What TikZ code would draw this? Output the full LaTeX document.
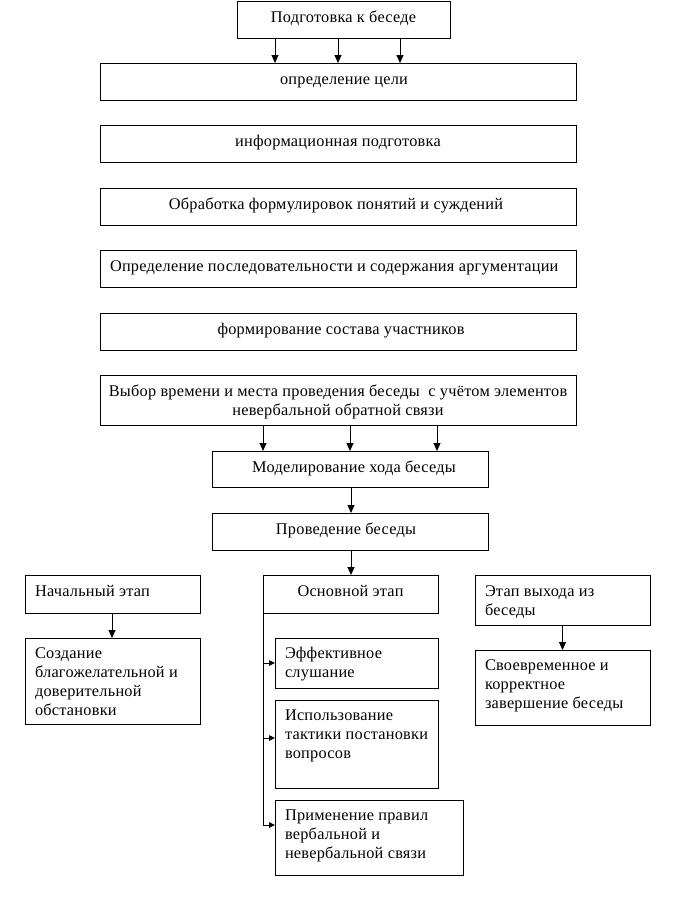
\documentclass[tikz,border=0pt]{standalone}
\usepackage{fontspec}
\setmainfont{Liberation Serif}[LetterSpace=1.5]
\usetikzlibrary{arrows.meta}
\tikzset{
  box/.style={draw, line width=0.9pt, inner sep=0pt, outer sep=0pt, anchor=north west},
  txt/.style={inner sep=0pt, outer sep=0pt, font=\fontsize{16.3}{19}\selectfont},
  arr/.style={line width=0.9pt, -{Triangle[length=8pt,width=7pt]}},
  sarr/.style={line width=0.9pt, -{Triangle[length=6pt,width=5.5pt]}},
  ln/.style={line width=0.9pt}
}
\newcommand\mybox[6]{\node[box, minimum width=#4, minimum height=#5] (#1) at (#2,#3) {};}
\begin{document}
\begin{tikzpicture}[x=1pt,y=-1pt]
\useasboundingbox (0,0) rectangle (676,913);
% boxes
\mybox{top}{237}{1}{213pt}{37pt}{}
\mybox{b1}{100}{63}{476pt}{37pt}{}
\mybox{b2}{100}{125}{476pt}{37pt}{}
\mybox{b3}{100}{188}{476pt}{37pt}{}
\mybox{b4}{100}{250}{476pt}{37pt}{}
\mybox{b5}{100}{313}{476pt}{37pt}{}
\mybox{b6}{100}{375}{476pt}{50pt}{}
\mybox{mod}{212}{451}{276pt}{36pt}{}
\mybox{prov}{212}{513}{276pt}{37pt}{}
\mybox{nach}{25}{575}{175pt}{38pt}{}
\mybox{osn}{263}{575}{175pt}{38pt}{}
\mybox{exit}{475}{575}{175pt}{50pt}{}
\mybox{sozd}{25}{638}{175pt}{86pt}{}
\mybox{eff}{275}{638}{163pt}{50pt}{}
\mybox{isp}{275}{700}{163pt}{88pt}{}
\mybox{prim}{275}{800}{188pt}{75pt}{}
\mybox{svoev}{475}{650}{175pt}{75pt}{}
% texts
\node[txt, anchor=base] at ([shift={(0,21)}]top.north) {Подготовка к беседе};
\node[txt, anchor=base] at ([shift={(6,21)}]b1.north) {определение цели};
\node[txt, anchor=base] at ([shift={(0,21)}]b2.north) {информационная подготовка};
\node[txt, anchor=base] at ([shift={(-2,21)}]b3.north) {Обработка формулировок понятий и суждений};
\node[txt, anchor=base west] at ([shift={(10,21)}]b4.north west) {Определение последовательности и содержания аргументации};
\node[txt, anchor=base] at ([shift={(3,21)}]b5.north) {формирование состава участников};
\node[txt, anchor=base] at ([shift={(0,21)}]b6.north) {\parbox[t]{470pt}{\centering Выбор времени и места проведения беседы \ с учётом элементов\\невербальной обратной связи}};
\node[txt, anchor=base] at ([shift={(4,21)}]mod.north) {Моделирование хода беседы};
\node[txt, anchor=base] at ([shift={(-4,21)}]prov.north) {Проведение беседы};
\node[txt, anchor=base west] at ([shift={(10,21)}]nach.north west) {Начальный этап};
\node[txt, anchor=base] at ([shift={(0,21)}]osn.north) {Основной этап};
\node[txt, anchor=base west] at ([shift={(10,21)}]exit.north west) {\parbox[t]{165pt}{\raggedright Этап выхода из\\беседы}};
\node[txt, anchor=base west] at ([shift={(10,20)}]sozd.north west) {\parbox[t]{170pt}{\raggedright Создание\\благожелательной и\\доверительной\\обстановки}};
\node[txt, anchor=base west] at ([shift={(10,20)}]eff.north west) {\parbox[t]{160pt}{\raggedright Эффективное\\слушание}};
\node[txt, anchor=base west] at ([shift={(10,20)}]isp.north west) {\parbox[t]{160pt}{\raggedright Использование\\тактики постановки\\вопросов}};
\node[txt, anchor=base west] at ([shift={(10,20)}]prim.north west) {\parbox[t]{180pt}{\raggedright Применение правил\\вербальной и\\невербальной связи}};
\node[txt, anchor=base west] at ([shift={(10,20)}]svoev.north west) {\parbox[t]{170pt}{\raggedright Своевременное и\\корректное\\завершение беседы}};
% connectors
\foreach \dx in {-68.5,-5.5,56.5}
  \draw[arr] ([xshift=\dx pt]top.south) -- ([xshift=\dx pt]top.south |- b1.north);
\foreach \dx in {-75,12,99}
  \draw[arr] ([xshift=\dx pt]b6.south) -- ([xshift=\dx pt]b6.south |- mod.north);
\draw[arr] ([xshift=1pt]mod.south) -- ([xshift=1pt]mod.south |- prov.north);
\draw[arr] ([xshift=1pt]prov.south) -- ([xshift=1pt]prov.south |- osn.north);
\draw[arr] ([xshift=-0.5pt]nach.south) -- ([xshift=-0.5pt]nach.south |- sozd.north);
\draw[arr] (exit.south) -- (svoev.north);
\coordinate (vend) at ([yshift=12.5pt]osn.south west |- prim.west);
\draw[ln] (osn.south west) -- (vend);
\draw[sarr] (osn.south west |- eff.west) -- (eff.west);
\draw[sarr] ([yshift=6pt]osn.south west |- isp.west) -- ([yshift=6pt]isp.west);
\draw[sarr] (vend) -- ([yshift=12.5pt]prim.west);
\end{tikzpicture}
\end{document}
